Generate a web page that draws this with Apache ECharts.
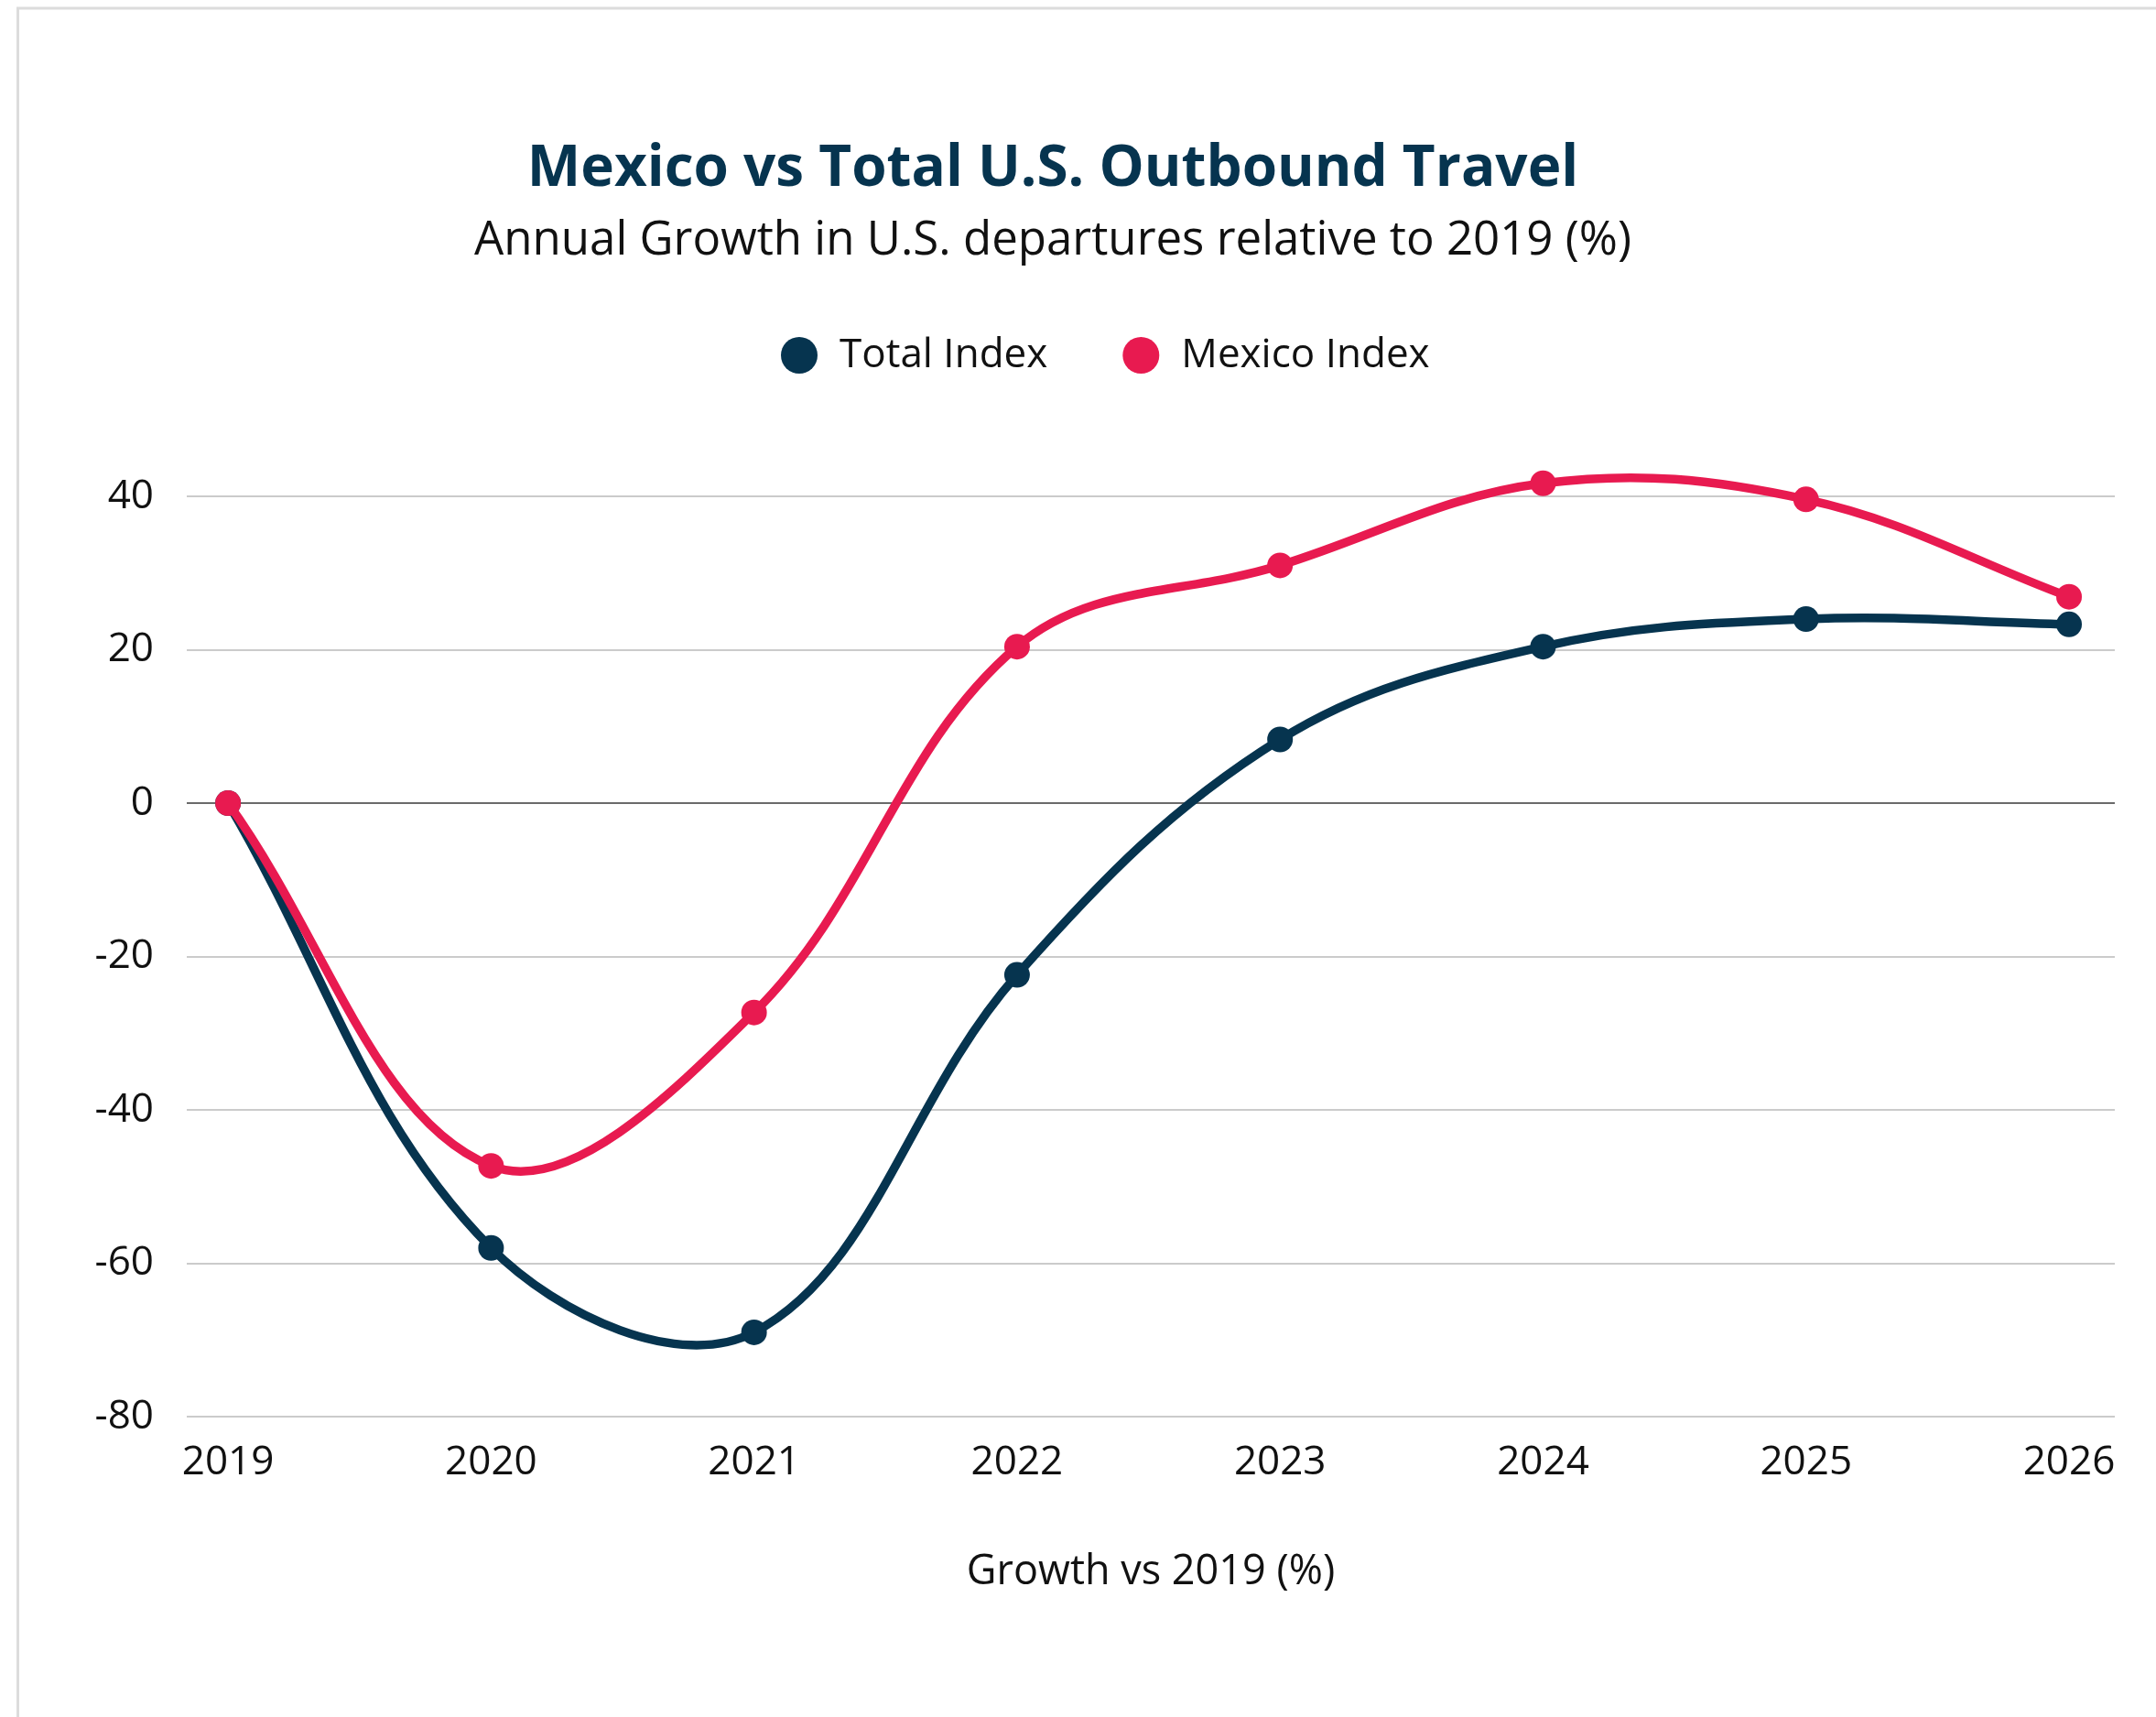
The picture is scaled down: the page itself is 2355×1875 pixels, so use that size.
<!DOCTYPE html>
<html>
<head>
<meta charset="utf-8">
<title>Mexico vs Total U.S. Outbound Travel</title>
<script src="https://cdn.jsdelivr.net/npm/echarts@6/dist/echarts.min.js"></script>
<style>
  html, body { margin: 0; padding: 0; background: #ffffff; }
  #chart { width: 2355px; height: 1875px; }
</style>
</head>
<body>
<div id="chart"></div>
<script>
// Years on the horizontal axis
const years = [2019, 2020, 2021, 2022, 2023, 2024, 2025, 2026];
// Growth in departures relative to 2019 (%)
const totalIndex = [0, -58, -69, -22.4, 8.3, 20.4, 24.0, 23.3];
const mexicoIndex = [0, -47.3, -27.3, 20.4, 31.0, 41.7, 39.6, 26.9];
// Value-axis ticks
const yTicks = [-80, -60, -40, -20, 0, 20, 40];

const NAVY = '#06344f';
const RED = '#e81a50';
const FONT = '"Open Sans", "Noto Sans", sans-serif';
const LINE_W = 9.5;
const DOT_R = 14;
const TENSION = 0.37;

// Distance-weighted cardinal spline control points around a point
function splineCP(prev, cur, next, t) {
  const d01 = Math.hypot(cur[0] - prev[0], cur[1] - prev[1]);
  const d12 = Math.hypot(next[0] - cur[0], next[1] - cur[1]);
  const sum = d01 + d12 || 1;
  const fa = t * d01 / sum;
  const fb = t * d12 / sum;
  return {
    before: [cur[0] - fa * (next[0] - prev[0]), cur[1] - fa * (next[1] - prev[1])],
    after: [cur[0] + fb * (next[0] - prev[0]), cur[1] + fb * (next[1] - prev[1])]
  };
}

// Each item draws its marker and the curved segment to the following year
function curveRenderer(values, color) {
  return function (params, api) {
    const i = params.dataIndex;
    const pts = years.map((y, k) => api.coord([y, values[k]]));
    const n = pts.length;
    const cp = (k) => splineCP(pts[Math.max(k - 1, 0)], pts[k], pts[Math.min(k + 1, n - 1)], TENSION);
    const children = [];
    if (i < n - 1) {
      const a = cp(i).after;
      const b = cp(i + 1).before;
      children.push({
        type: 'bezierCurve',
        shape: {
          x1: pts[i][0], y1: pts[i][1], x2: pts[i + 1][0], y2: pts[i + 1][1],
          cpx1: a[0], cpy1: a[1], cpx2: b[0], cpy2: b[1]
        },
        style: { stroke: color, lineWidth: LINE_W, fill: null, lineCap: 'round' }
      });
    }
    children.push({
      type: 'circle',
      shape: { cx: pts[i][0], cy: pts[i][1], r: DOT_R },
      style: { fill: color }
    });
    return { type: 'group', children };
  };
}

const toPairs = (vals) => years.map((y, i) => [y, vals[i]]);

const chart = echarts.init(document.getElementById('chart'), null, { renderer: 'canvas' });

chart.setOption({
  backgroundColor: '#ffffff',
  animation: false,
  textStyle: { fontFamily: FONT },
  graphic: [
    // page frame
    { type: 'line', shape: { x1: 18, y1: 9, x2: 2355, y2: 9 }, style: { stroke: '#dcdcdc', lineWidth: 3 }, silent: true },
    { type: 'line', shape: { x1: 19.5, y1: 8, x2: 19.5, y2: 1875 }, style: { stroke: '#dcdcdc', lineWidth: 3 }, silent: true },
    {
      type: 'text', x: 1150, top: 154,
      style: {
        text: 'Mexico vs Total U.S. Outbound Travel',
        fill: NAVY, font: 'bold 62px ' + FONT, textAlign: 'center'
      }
    },
    {
      type: 'text', x: 1150, top: 238,
      style: {
        text: 'Annual Growth in U.S. departures relative to 2019 (%)',
        fill: '#111111', font: '51px ' + FONT, textAlign: 'center'
      }
    }
  ],
  legend: {
    left: 848, top: 361,
    icon: 'circle', itemWidth: 40, itemHeight: 40, itemGap: 82,
    textStyle: { fontSize: 44, color: '#111111', padding: [0, 0, 0, 19], fontFamily: FONT },
    data: ['Total Index', 'Mexico Index']
  },
  grid: { left: 204, right: 45, top: 542, bottom: 328, containLabel: false },
  xAxis: {
    type: 'value',
    min: 2018.843, max: 2026.174,
    axisLine: { show: false },
    axisTick: { show: false },
    splitLine: { show: false },
    axisLabel: {
      customValues: years, fontSize: 44, color: '#111111', margin: 28,
      formatter: (v) => String(v)
    },
    name: 'Growth vs 2019 (%)',
    nameLocation: 'middle', nameGap: 148,
    nameTextStyle: { fontSize: 45, color: '#111111' }
  },
  yAxis: {
    type: 'value', min: yTicks[0], max: yTicks[yTicks.length - 1], interval: 20,
    axisLine: { show: false }, axisTick: { show: false },
    axisLabel: { fontSize: 44, color: '#111111', margin: 36 },
    splitLine: {
      show: true,
      lineStyle: { width: 2, color: yTicks.map((v) => (v === 0 ? '#6a6a6a' : '#cbcbcb')) }
    }
  },
  series: [
    {
      name: 'Total Index', type: 'custom', data: toPairs(totalIndex),
      encode: { x: 0, y: 1 }, z: 3,
      itemStyle: { color: NAVY },
      renderItem: curveRenderer(totalIndex, NAVY)
    },
    {
      name: 'Mexico Index', type: 'custom', data: toPairs(mexicoIndex),
      encode: { x: 0, y: 1 }, z: 4,
      itemStyle: { color: RED },
      renderItem: curveRenderer(mexicoIndex, RED)
    }
  ]
});
</script>
</body>
</html>
